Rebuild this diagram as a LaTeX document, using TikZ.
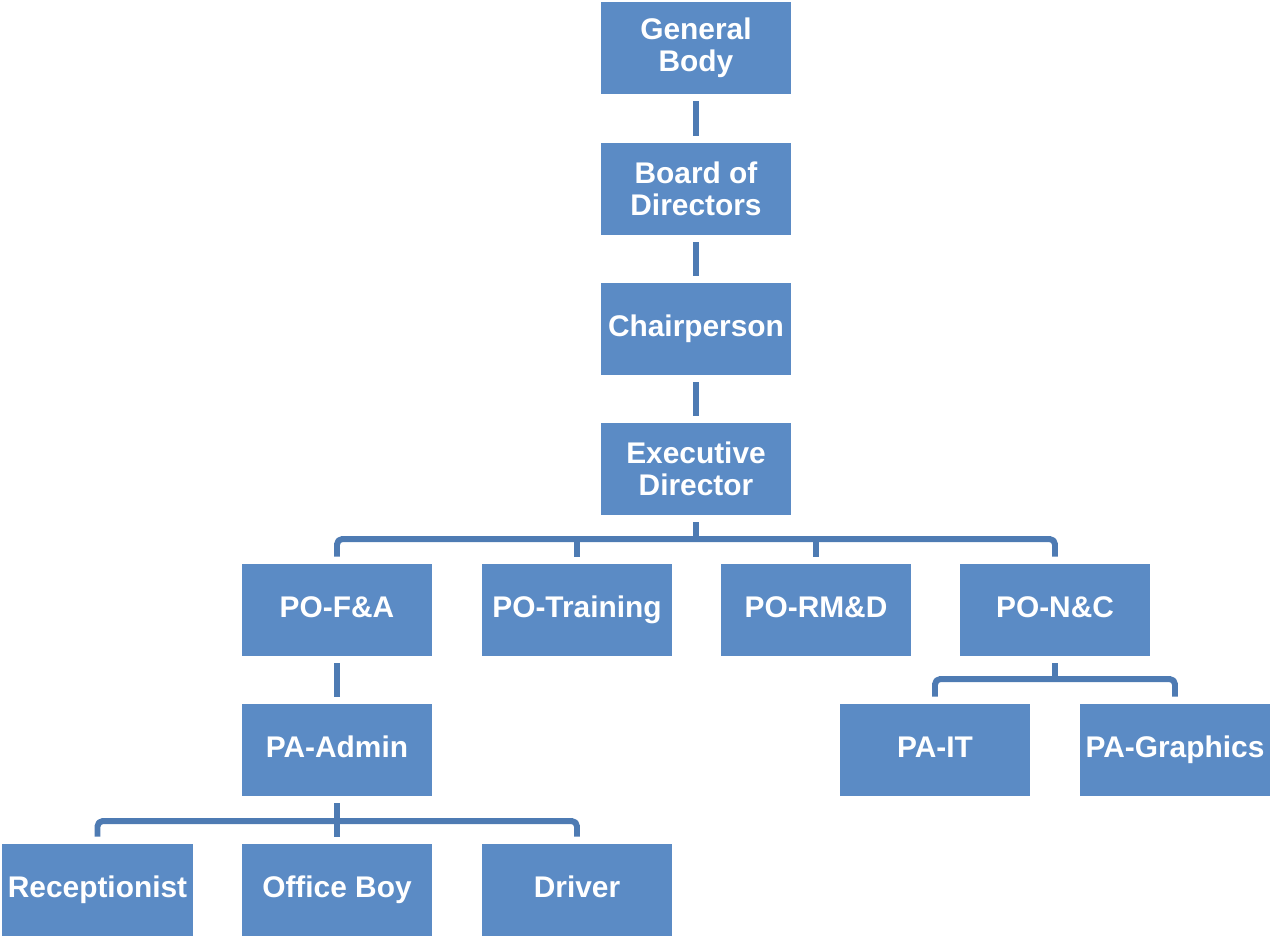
\documentclass[tikz,border=0pt]{standalone}
\usepackage{fontspec}
\setmainfont{Liberation Sans}
\definecolor{boxblue}{HTML}{5B8BC5}
\definecolor{linkblue}{HTML}{4E7BB3}
\begin{document}
\begin{tikzpicture}[line join=round, font=\bfseries\fontsize{17}{18.5}\selectfont]
	\tikzset{unit/.style={fill=boxblue, text=white, minimum width=3.8cm, minimum height=1.84cm, inner sep=0pt, align=center},
		single/.style={unit, text height=12pt, text depth=3.5pt},
		link/.style={draw=linkblue, line width=3.4pt, rounded corners=3pt},
		gap/.style={shorten <=4pt, shorten >=4pt}}
	\useasboundingbox (0,0) rectangle (25.42,-18.72);
	\node[unit] (gb) at (13.92,-0.96) {General\\Body};
	\node[unit] (bod) at (13.92,-3.78) {Board of\\Directors};
	\node[single] (chair) at (13.92,-6.58) {Chairperson};
	\node[unit] (ed) at (13.92,-9.38) {Executive\\Director};
	\node[single] (pofa) at (6.74,-12.2) {PO-F\&A};
	\node[single] (potr) at (11.54,-12.2) {PO-Training};
	\node[single] (pormd) at (16.32,-12.2) {PO-RM\&D};
	\node[single] (ponc) at (21.1,-12.2) {PO-N\&C};
	\node[single] (paadm) at (6.74,-15.0) {PA-Admin};
	\node[single] (pait) at (18.7,-15.0) {PA-IT};
	\node[single] (pagr) at (23.5,-15.0) {PA-Graphics};
	\node[single] (rec) at (1.95,-17.8) {Receptionist};
	\node[single] (ob) at (6.74,-17.8) {Office Boy};
	\node[single] (drv) at (11.54,-17.8) {Driver};
	\coordinate (edbar) at (13.92,-10.78);
	\coordinate (ncbar) at (21.1,-13.58);
	\coordinate (adbar) at (6.74,-16.42);
	\draw[link, gap] (gb.south) -- (bod.north);
	\draw[link, gap] (bod.south) -- (chair.north);
	\draw[link, gap] (chair.south) -- (ed.north);
	\draw[link, shorten <=4pt] (ed.south) -- (edbar);
	\draw[link] ([yshift=4pt]pofa.north) |- (edbar) -| ([yshift=4pt]ponc.north);
	\draw[link, shorten <=4pt] (potr.north) -- (potr.north |- edbar);
	\draw[link, shorten <=4pt] (pormd.north) -- (pormd.north |- edbar);
	\draw[link, gap] (pofa.south) -- (paadm.north);
	\draw[link, shorten <=4pt] (ponc.south) -- (ncbar);
	\draw[link] ([yshift=4pt]pait.north) |- (ncbar) -| ([yshift=4pt]pagr.north);
	\draw[link, gap] (paadm.south) -- (ob.north);
	\draw[link] ([yshift=4pt]rec.north) |- (adbar) -| ([yshift=4pt]drv.north);
\end{tikzpicture}
\end{document}
